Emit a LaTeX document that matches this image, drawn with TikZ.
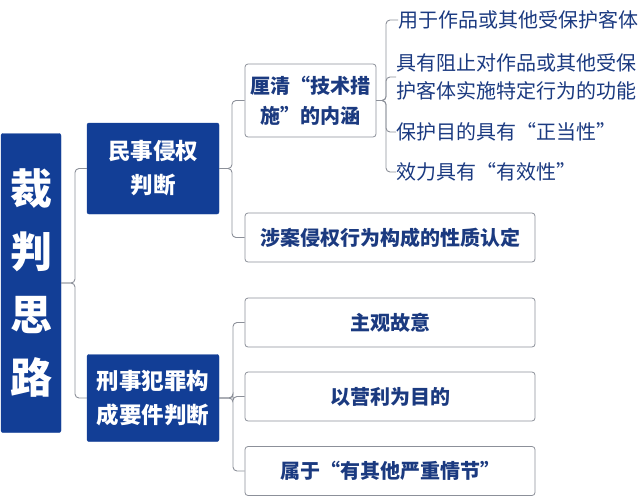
\documentclass[tikz,border=0pt]{standalone}
\usepackage{fontspec}
\setmainfont{Noto Sans CJK SC}
\definecolor{navy}{HTML}{123E96}
\definecolor{ink}{HTML}{1B3A80}
\definecolor{edge}{HTML}{8C9099}
\begin{document}
\begin{tikzpicture}[x=1pt,y=-1pt,
  blue/.style={draw=navy,fill=navy,rounded corners=2pt,text=white,font=\bfseries\fontsize{22.5}{34}\selectfont,align=center,inner sep=0pt},
  wbox/.style={draw=edge,line width=0.8pt,fill=white,rounded corners=3pt,text=ink,font=\bfseries\fontsize{20}{30}\selectfont,align=center,inner sep=0pt},
  leaf/.style={anchor=west,text=ink,font=\fontsize{20}{28}\selectfont,align=left,inner sep=0pt},
  conn/.style={draw=edge,line width=0.9pt,rounded corners=4pt}]
\useasboundingbox (0,0) rectangle (640,501);
% root
\node[blue,minimum width=60pt,minimum height=299pt,font=\bfseries\fontsize{42}{63}\selectfont] (root) at (31,283) {裁\\判\\思\\路};
% level 1
\node[blue,minimum width=132pt,minimum height=91pt] (civ) at (153,168.5) {民事侵权\\判断};
\node[blue,minimum width=132pt,minimum height=87pt] (crim) at (153,398) {刑事犯罪构\\成要件判断};
% level 2 civil
\node[wbox,minimum width=131pt,minimum height=73pt] (tech) at (310.5,100.5) {厘清“技术措\\施”的内涵};
\node[wbox,minimum width=290pt,minimum height=49pt] (case) at (390,237.5) {涉案侵权行为构成的性质认定};
% level 2 criminal
\node[wbox,minimum width=290pt,minimum height=49pt] (subj) at (390,322.5) {主观故意};
\node[wbox,minimum width=290pt,minimum height=49pt] (profit) at (390,396.5) {以营利为目的};
\node[wbox,minimum width=290pt,minimum height=49pt] (serious) at (390,471) {属于“有其他严重情节”};
% leaves
\node[leaf] (l1) at (398,20) {用于作品或其他受保护客体};
\node[leaf] (l2) at (396,77) {具有阻止对作品或其他受保\\护客体实施特定行为的功能};
\node[leaf] (l3) at (396,132) {保护目的具有“正当性”};
\node[leaf] (l4) at (396,172) {效力具有“有效性”};
% connectors
\path[conn] (root.east) -- (75,283) |- (civ.west);
\path[conn] (root.east) -- (75,283) |- (crim.west);
\path[conn] (civ.east) -- (232,168.5) |- (tech.west);
\path[conn] (civ.east) -- (232,168.5) |- (case.west);
\path[conn] (crim.east) -- (233,398) |- (subj.west);
\path[conn] (crim.east) -- (233,398) |- (profit.west);
\path[conn] (crim.east) -- (233,398) |- (serious.west);
\path[conn] (tech.east) -- (386,100.5) |- (l1.west);
\path[conn] (tech.east) -- (386,100.5) |- (l2.west);
\path[conn] (tech.east) -- (386,100.5) |- (l3.west);
\path[conn] (tech.east) -- (386,100.5) |- (l4.west);
\end{tikzpicture}
\end{document}
